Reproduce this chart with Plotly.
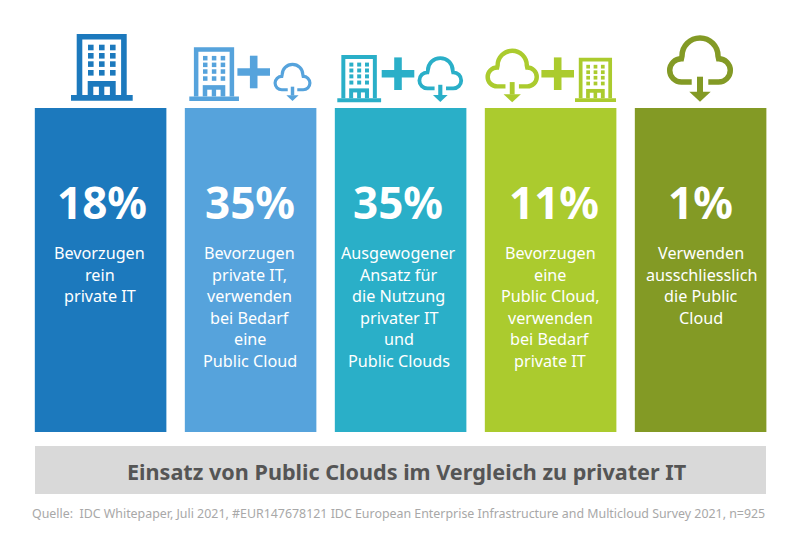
import plotly.graph_objects as go

# data
categories = ["Rein privat", "Privat mit Cloud", "Ausgewogen", "Cloud mit privat", "Nur Cloud"]
panel_height = [1, 1, 1, 1, 1]
percent_labels = ["18%", "35%", "35%", "11%", "1%"]
descriptions = [
    ["Bevorzugen", "rein", "private IT"],
    ["Bevorzugen", "private IT,", "verwenden", "bei Bedarf", "eine", "Public Cloud"],
    ["Ausgewogener", "Ansatz für", "die Nutzung", "privater IT", "und", "Public Clouds"],
    ["Bevorzugen", "eine", "Public Cloud,", "verwenden", "bei Bedarf", "private IT"],
    ["Verwenden", "ausschliesslich", "die Public", "Cloud"],
]
colors = ["#1c79bd", "#56a3dc", "#2aafc8", "#abcb2e", "#839a25"]
title_text = "Einsatz von Public Clouds im Vergleich zu privater IT"
source_text = "Quelle:\u00a0\u00a0IDC Whitepaper, Juli 2021, #EUR147678121 IDC European Enterprise Infrastructure and Multicloud Survey 2021, n=925"

WIDTH = 800
HEIGHT = 533
FONT = "Noto Sans"
# small nudges so the labels sit where they do in the original
percent_nudge = [1, -1, -3, 3, 0]
text_nudge = [-1, -1, -2, -0.5, 0.5]


# page pixels to paper fractions
def px(x):
    return x / WIDTH


def py(y):
    return 1 - y / HEIGHT


def make_path(commands):
    parts = []
    for cmd, points in commands:
        coords = " ".join(f"{px(x):.5f} {py(y):.5f}" for x, y in points)
        parts.append(f"{cmd} {coords}")
    return " ".join(parts)


def filled_rect(x0, y0, x1, y1, color):
    return dict(type="rect", xref="paper", yref="paper", x0=px(x0), x1=px(x1),
                y0=py(y0), y1=py(y1), fillcolor=color, line_width=0, layer="above")


# building icon, drawn in units of the biggest one (61.7 wide, 66.7 high)
def building(left, top, scale, color):
    def X(u):
        return left + u * scale

    def Y(v):
        return top + v * scale

    shapes = []
    # outer wall as a stroked outline
    wall = 5.6 * scale
    shapes.append(dict(type="path", xref="paper", yref="paper", layer="above",
                       path=make_path([("M", [(X(5.7 + 2.8), Y(61))]),
                                       ("L", [(X(5.7 + 2.8), Y(2.8))]),
                                       ("L", [(X(55.7 - 2.8), Y(2.8))]),
                                       ("L", [(X(55.7 - 2.8), Y(61))])]),
                       line=dict(color=color, width=wall), fillcolor="rgba(0,0,0,0)"))
    # windows
    for u in [17, 28, 39]:
        for v in [10.7, 19, 27.3, 36]:
            shapes.append(filled_rect(X(u), Y(v), X(u + 5.6), Y(v + 5.6), color))
    # entrance with two door slots
    shapes.append(filled_rect(X(16.7), Y(47), X(44.7), Y(61), color))
    for u in [22.3, 33.3]:
        shapes.append(filled_rect(X(u), Y(52.7), X(u + 5.6), Y(62), "#ffffff"))
    # base plate
    shapes.append(filled_rect(X(0), Y(61), X(61.7), Y(66.7), color))
    return shapes


# cloud icon with download arrow, units of the biggest one (66.6 wide)
def cloud(cx, top, scale, color):
    def P(u, v):
        return (cx + u * scale, top + v * scale)

    k = 0.5523
    r_lobe = 11.7
    r_main = 18
    commands = [
        ("M", [P(-8.3, 47)]),
        ("L", [P(-18.6, 47)]),
        ("C", [P(-18.6 - k * r_lobe, 47), P(-30.3, 35.35 + k * r_lobe), P(-30.3, 35.35)]),
        ("C", [P(-30.3, 35.35 - k * r_lobe), P(-18.6 - k * r_lobe, 23.7), P(-18.6, 23.7)]),
        ("L", [P(-18, 21)]),
        ("C", [P(-18, 21 - k * r_main), P(-k * r_main, 3), P(0, 3)]),
        ("C", [P(k * r_main, 3), P(18, 21 - k * r_main), P(18, 21)]),
        ("L", [P(18.6, 23.7)]),
        ("C", [P(18.6 + k * r_lobe, 23.7), P(30.3, 35.35 - k * r_lobe), P(30.3, 35.35)]),
        ("C", [P(30.3, 35.35 + k * r_lobe), P(18.6 + k * r_lobe, 47), P(18.6, 47)]),
        ("L", [P(8.3, 47)]),
    ]
    shapes = [dict(type="path", xref="paper", yref="paper", layer="above",
                   path=make_path(commands), fillcolor="rgba(0,0,0,0)",
                   line=dict(color=color, width=5.5 * scale))]
    x0, y0 = P(-3, 41.7)
    x1, y1 = P(3, 57)
    shapes.append(filled_rect(x0, y0, x1, y1, color))
    arrow = [("M", [P(-10.7, 56.7)]), ("L", [P(10.7, 56.7)]), ("L", [P(0, 66.7)]), ("Z", [])]
    shapes.append(dict(type="path", xref="paper", yref="paper", layer="above",
                       path=make_path(arrow), fillcolor=color, line_width=0))
    return shapes


def plus(cx, cy, color):
    half = 16.3
    bar = 3.8
    return [filled_rect(cx - half, cy - bar, cx + half, cy + bar, color),
            filled_rect(cx - bar, cy - half, cx + bar, cy + half, color)]


fig = go.Figure()
fig.add_trace(go.Bar(x=categories, y=panel_height, marker=dict(color=colors, line_width=0),
                     hoverinfo="skip", showlegend=False))

shapes = []
shapes += building(71, 34, 1, colors[0])
shapes += building(189.3, 47.3, 0.805, colors[1])
shapes += plus(253.7, 72, colors[1])
shapes += cloud(292.5, 62.7, 0.575, colors[1])
shapes += building(337.3, 55, 0.71, colors[2])
shapes += plus(398, 73.7, colors[2])
shapes += cloud(440.3, 56, 0.69, colors[2])
shapes += cloud(512.2, 48.3, 0.81, colors[3])
shapes += plus(557.7, 73.7, colors[3])
shapes += building(575, 57.7, 0.665, colors[3])
shapes += cloud(700, 35, 1, colors[4])
# grey title band
shapes.append(dict(type="rect", xref="paper", yref="paper", x0=px(35), x1=px(766),
                   y0=py(446), y1=py(494), fillcolor="#d9d9d9", line_width=0, layer="below"))

annotations = []
for n, (cat, label, lines) in enumerate(zip(categories, percent_labels, descriptions)):
    annotations.append(dict(x=cat, xref="x", y=py(202), yref="paper", text=label, showarrow=False,
                            xanchor="center", yanchor="middle", xshift=percent_nudge[n],
                            font=dict(family=FONT, size=44, color="#ffffff", weight="bold")))
    for i, line in enumerate(lines):
        annotations.append(dict(x=cat, xref="x", y=py(253 + 21.6 * i), yref="paper", text=line,
                                showarrow=False, xanchor="center", yanchor="middle",
                                xshift=text_nudge[n],
                                font=dict(family=FONT, size=16.2, color="#ffffff")))
annotations.append(dict(x=px(406.5), xref="paper", y=py(471), yref="paper", text=title_text,
                        showarrow=False, xanchor="center", yanchor="middle",
                        font=dict(family=FONT, size=21.6, color="#555555", weight="bold")))
annotations.append(dict(x=px(766.5), xref="paper", y=py(513), yref="paper", text=source_text,
                        showarrow=False, xanchor="right", yanchor="middle",
                        font=dict(family=FONT, size=12.4, color="#a8a8a8")))

fig.update_layout(
    width=WIDTH, height=HEIGHT, margin=dict(l=0, r=0, t=0, b=0),
    paper_bgcolor="#ffffff", plot_bgcolor="#ffffff", bargap=0.123, showlegend=False,
    xaxis=dict(visible=False, domain=[px(25.6), px(775.6)]),
    yaxis=dict(visible=False, domain=[py(432), py(108)], range=[0, 1]),
    shapes=shapes, annotations=annotations,
)

fig.write_html("out.html", config={"displayModeBar": False},
               post_script="document.body.style.margin='0';")
